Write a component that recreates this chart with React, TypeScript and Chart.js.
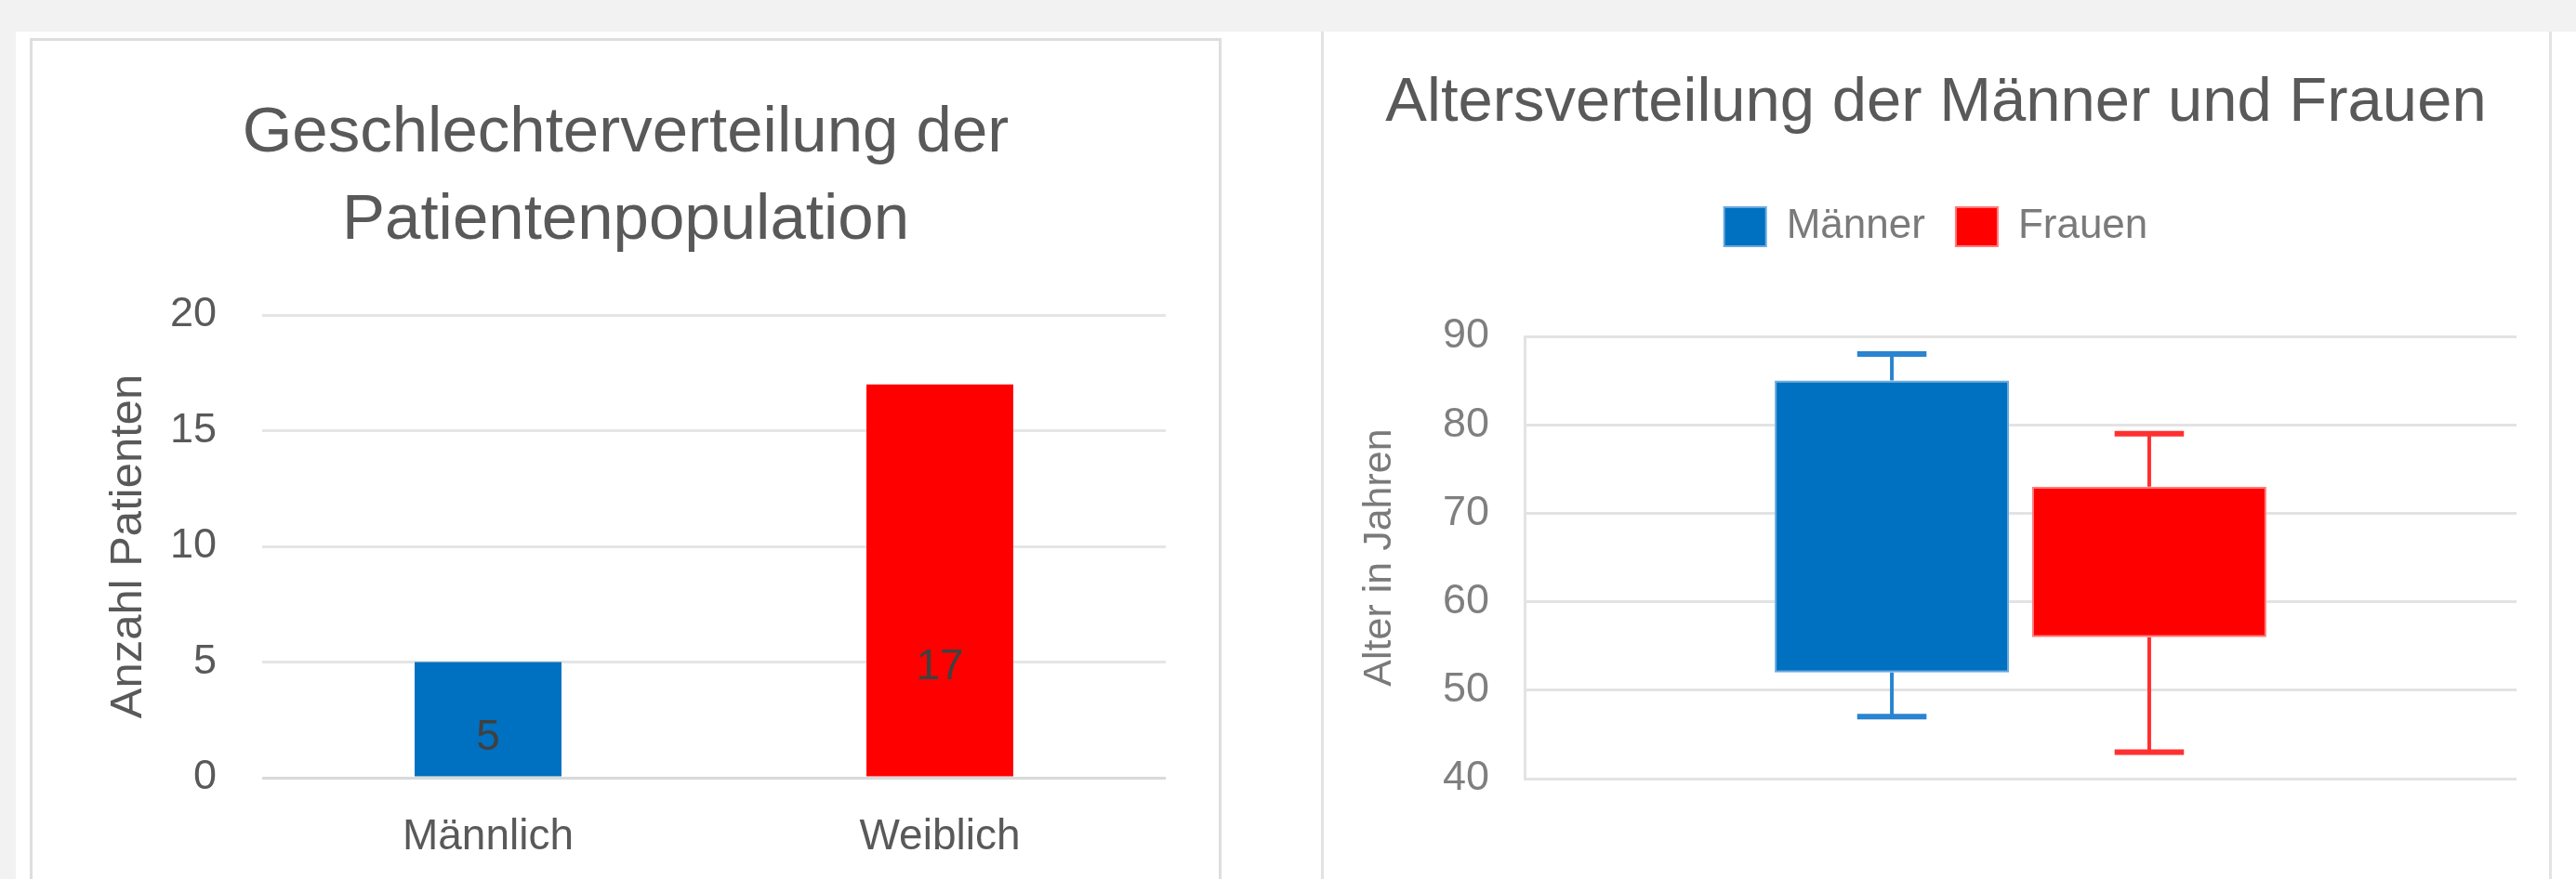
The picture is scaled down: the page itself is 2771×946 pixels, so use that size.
import React, { useEffect, useRef } from 'react';
import { Chart, registerables } from 'chart.js';

Chart.register(...registerables);

// ---------- data ----------
const genderCategories = ['Männlich', 'Weiblich'];
const genderCounts = [5, 17];
const genderColors = ['#0070C0', '#FF0000'];
const genderAxisMin = 0;
const genderAxisMax = 20;
const genderAxisStep = 5;

const ageSeries = ['Männer', 'Frauen'];
const ageBoxLow = [52, 56];
const ageBoxHigh = [85, 73];
const ageWhiskerMin = [47, 43];
const ageWhiskerMax = [88, 79];
const ageColors = ['#0070C0', '#FF0000'];
const ageAxisMin = 40;
const ageAxisMax = 90;
const ageAxisStep = 10;

// ---------- styles ----------
const FONT = "'Liberation Sans', Arial, sans-serif";
const LABEL_FRACTION = [0.34, 0.28];
const WHISKER_COLORS = ['#2a84cf', '#ff3030'];
const BOX_BORDERS = ['#6aa9de', '#ff7a7a'];

const barLabelPlugin = {
  id: 'barLabels',
  afterDatasetsDraw(chart: any) {
    const meta = chart.getDatasetMeta(0);
    const ys = chart.scales.y;
    const ctx = chart.ctx;
    ctx.save();
    ctx.font = `46px ${FONT}`;
    ctx.fillStyle = '#404040';
    ctx.textAlign = 'center';
    ctx.textBaseline = 'middle';
    meta.data.forEach((el: any, i: number) => {
      const v = genderCounts[i];
      ctx.fillText(String(v), el.x, ys.getPixelForValue(v * LABEL_FRACTION[i]));
    });
    ctx.restore();
  },
};

const whiskerPlugin = {
  id: 'whiskers',
  beforeDatasetsDraw(chart: any) {
    const ys = chart.scales.y;
    const ctx = chart.ctx;
    ctx.save();
    chart.data.datasets.forEach((_ds: any, i: number) => {
      const el = chart.getDatasetMeta(i).data[0];
      if (!el) return;
      const x = el.x;
      const half = el.width * 0.148;
      const yMax = ys.getPixelForValue(ageWhiskerMax[i]);
      const yMin = ys.getPixelForValue(ageWhiskerMin[i]);
      const yHigh = ys.getPixelForValue(ageBoxHigh[i]);
      const yLow = ys.getPixelForValue(ageBoxLow[i]);
      ctx.strokeStyle = WHISKER_COLORS[i];
      ctx.lineWidth = 4;
      ctx.beginPath();
      ctx.moveTo(x, yMax);
      ctx.lineTo(x, yHigh);
      ctx.moveTo(x, yLow);
      ctx.lineTo(x, yMin);
      ctx.stroke();
      ctx.lineWidth = 6;
      ctx.beginPath();
      ctx.moveTo(x - half, yMax);
      ctx.lineTo(x + half, yMax);
      ctx.moveTo(x - half, yMin);
      ctx.lineTo(x + half, yMin);
      ctx.stroke();
    });
    ctx.restore();
  },
};

// an empty axis on the right that only reserves room, so titles stay centred on the card
const spacerAxis = (w: number) => ({
  type: 'linear',
  position: 'right',
  display: true,
  grid: { display: false, drawTicks: false },
  border: { display: false },
  ticks: { display: false },
  afterFit: (s: any) => {
    s.width = w;
  },
});

function GenderChart() {
  const ref = useRef<HTMLCanvasElement | null>(null);
  useEffect(() => {
    if (!ref.current) return;
    const chart = new Chart(ref.current, {
      type: 'bar',
      data: {
        labels: genderCategories,
        datasets: [
          {
            data: genderCounts,
            backgroundColor: genderColors,
            borderWidth: 0,
            barPercentage: 0.325,
            categoryPercentage: 1,
          },
        ],
      },
      options: {
        responsive: false,
        animation: false,
        layout: { padding: 0 },
        plugins: {
          legend: { display: false },
          tooltip: { enabled: false },
          title: {
            display: true,
            text: ['Geschlechterverteilung der', 'Patientenpopulation'],
            color: '#595959',
            font: { family: FONT, size: 69, weight: 'normal', lineHeight: 94 / 69 },
            padding: { top: 53, bottom: 54 },
          },
        },
        scales: {
          x: {
            grid: { display: false, drawTicks: false },
            border: { display: false },
            ticks: {
              color: '#595959',
              font: { family: FONT, size: 46 },
              padding: 37,
            },
            afterFit: (s: any) => {
              s.height = 109;
            },
          },
          y: {
            min: genderAxisMin,
            max: genderAxisMax,
            border: { display: false },
            grid: {
              drawTicks: false,
              lineWidth: 3,
              color: (c: any) => (c.tick && c.tick.value === 0 ? '#d9d9d9' : '#e5e5e5'),
            },
            ticks: {
              stepSize: genderAxisStep,
              color: '#595959',
              font: { family: FONT, size: 45 },
              padding: 49,
            },
            title: {
              display: true,
              text: 'Anzahl Patienten',
              color: '#595959',
              font: { family: FONT, size: 49 },
              padding: { top: 74, bottom: 0 },
            },
            afterFit: (s: any) => {
              s.width = 247;
            },
          },
          spacer: spacerAxis(57),
        },
      },
      plugins: [barLabelPlugin],
    } as any);
    return () => chart.destroy();
  }, []);
  return <canvas ref={ref} width={1276} height={902} style={{ width: 1276, height: 902, display: 'block' }} />;
}

function AgeChart() {
  const ref = useRef<HTMLCanvasElement | null>(null);
  useEffect(() => {
    if (!ref.current) return;
    const chart = new Chart(ref.current, {
      type: 'bar',
      data: {
        labels: [''],
        datasets: ageSeries.map((name, i) => ({
          label: name,
          data: [[ageBoxLow[i], ageBoxHigh[i]]],
          backgroundColor: ageColors[i],
          borderColor: BOX_BORDERS[i],
          borderWidth: 2,
          borderSkipped: false,
          barPercentage: 0.91,
          categoryPercentage: 0.519,
        })),
      },
      options: {
        responsive: false,
        animation: false,
        layout: { padding: { left: 0, right: 0, top: 0, bottom: 108 } },
        plugins: {
          tooltip: { enabled: false },
          title: {
            display: true,
            text: 'Altersverteilung der Männer und Frauen',
            color: '#595959',
            font: { family: FONT, size: 67, weight: 'normal', lineHeight: 1.2 },
            padding: { top: 37, bottom: 37.6 },
          },
          legend: {
            display: true,
            position: 'top',
            labels: {
              boxWidth: 45,
              boxHeight: 42,
              padding: 33,
              color: '#7a7a7a',
              font: { family: FONT, size: 44 },
            },
          },
          subtitle: {
            display: true,
            text: ' ',
            weight: 500,
            font: { family: FONT, size: 10, lineHeight: 1.2 },
            padding: { top: 74, bottom: 0 },
          },
        },
        scales: {
          x: {
            display: false,
          },
          y: {
            min: ageAxisMin,
            max: ageAxisMax,
            border: { display: true, color: '#e3e3e3', width: 3 },
            grid: { drawTicks: false, lineWidth: 3, color: '#e3e3e3' },
            ticks: {
              stepSize: ageAxisStep,
              color: '#7f7f7f',
              font: { family: FONT, size: 45 },
              padding: 38,
            },
            title: {
              display: true,
              text: 'Alter in Jahren',
              color: '#7a7a7a',
              font: { family: FONT, size: 43 },
              padding: { top: 33, bottom: 0 },
            },
            afterFit: (s: any) => {
              s.width = 215;
            },
          },
          spacer: spacerAxis(33),
        },
      },
      plugins: [whiskerPlugin],
    } as any);
    return () => chart.destroy();
  }, []);
  return <canvas ref={ref} width={1315} height={912} style={{ width: 1315, height: 912, display: 'block' }} />;
}

export default function App() {
  return (
    <div
      style={{
        position: 'fixed',
        left: 0,
        top: 0,
        width: 2771,
        height: 946,
        background: '#f2f2f2',
        overflow: 'hidden',
      }}
    >
      <div style={{ position: 'absolute', left: 17, top: 34, right: 0, bottom: 0, background: '#ffffff' }} />
      <div
        style={{
          position: 'absolute',
          left: 32,
          top: 41,
          width: 1282,
          height: 1000,
          border: '3px solid #dedede',
          boxSizing: 'border-box',
        }}
      />
      <div
        style={{
          position: 'absolute',
          left: 1421,
          top: 34,
          width: 1324,
          height: 1000,
          borderLeft: '3px solid #e3e3e3',
          borderRight: '3px solid #e3e3e3',
          boxSizing: 'border-box',
        }}
      />
      <div style={{ position: 'absolute', left: 35, top: 44 }}>
        <GenderChart />
      </div>
      <div style={{ position: 'absolute', left: 1425, top: 34 }}>
        <AgeChart />
      </div>
    </div>
  );
}
